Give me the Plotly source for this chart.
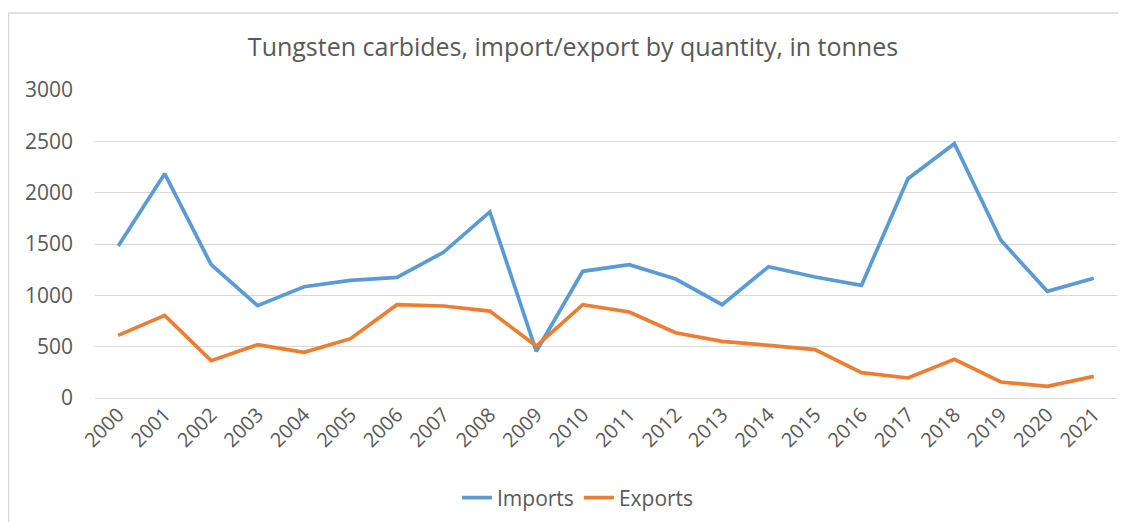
import plotly.graph_objects as go

years = [str(y) for y in range(2000, 2022)]
imports = [1480, 2185, 1299, 899, 1084, 1146, 1175, 1419, 1812, 455, 1234,
           1299, 1159, 909, 1279, 1179, 1097, 2136, 2477, 1536, 1039, 1166]
exports = [610, 805, 364, 519, 445, 578, 909, 896, 847, 506, 909,
           838, 636, 552, 513, 471, 247, 195, 377, 156, 114, 211]
y_ticks = [0, 500, 1000, 1500, 2000, 2500, 3000]

FONT = "Open Sans"
GRAY = "#595959"

fig = go.Figure()
fig.add_trace(go.Scatter(x=years, y=imports, mode="lines", name="Imports",
                         line=dict(color="#5B9BD5", width=3.7)))
fig.add_trace(go.Scatter(x=years, y=exports, mode="lines", name="Exports",
                         line=dict(color="#ED7D31", width=3.7)))

# page is rendered with an 8px body offset
OFF = 8
W, H = 1126, 522
L, R, T, B = 95 - OFF, 17, 90 - OFF, H - (398 - OFF)
pw, ph = W - L - R, H - T - B

def px_x(p):
    return (p - OFF - L) / pw

def px_y(p):
    return (H - B - (p - OFF)) / ph

fig.update_layout(
    width=W, height=H,
    margin=dict(l=L, r=R, t=T, b=B),
    paper_bgcolor="white", plot_bgcolor="white",
    font=dict(family=FONT, color=GRAY, size=20),
    title=dict(text="Tungsten carbides, import/export by quantity, in tonnes",
               x=px_x(573), xref="paper", xanchor="center",
               y=1 - (47 - OFF) / H, yanchor="middle",
               font=dict(family=FONT, size=25, color=GRAY)),
    showlegend=True,
    legend=dict(orientation="h", x=px_x(578), xanchor="center",
                y=px_y(498), yanchor="middle",
                font=dict(family=FONT, size=21, color=GRAY),
                bgcolor="rgba(0,0,0,0)"),
    xaxis=dict(type="category", range=[-0.5, 21.5], tickangle=-45,
               showgrid=False, showline=False, zeroline=False,
               ticks="", tickfont=dict(size=20, color=GRAY)),
    yaxis=dict(range=[0, 3000], tickvals=y_ticks,
               showgrid=True, gridcolor="#D9D9D9", gridwidth=1.2,
               zeroline=True, zerolinecolor="#D9D9D9", zerolinewidth=1.2,
               showline=False, ticks="", ticklabelstandoff=21,
               tickfont=dict(size=21, color=GRAY)),
    shapes=[
        dict(type="line", xref="paper", yref="paper",
             x0=px_x(8.5), x1=px_x(1140), y0=px_y(13), y1=px_y(13),
             line=dict(color="#D9D9D9", width=1.5)),
        dict(type="line", xref="paper", yref="paper",
             x0=px_x(8.5), x1=px_x(8.5), y0=px_y(13), y1=px_y(540),
             line=dict(color="#D9D9D9", width=1.5)),
    ],
)

fig.write_html("out.html")
